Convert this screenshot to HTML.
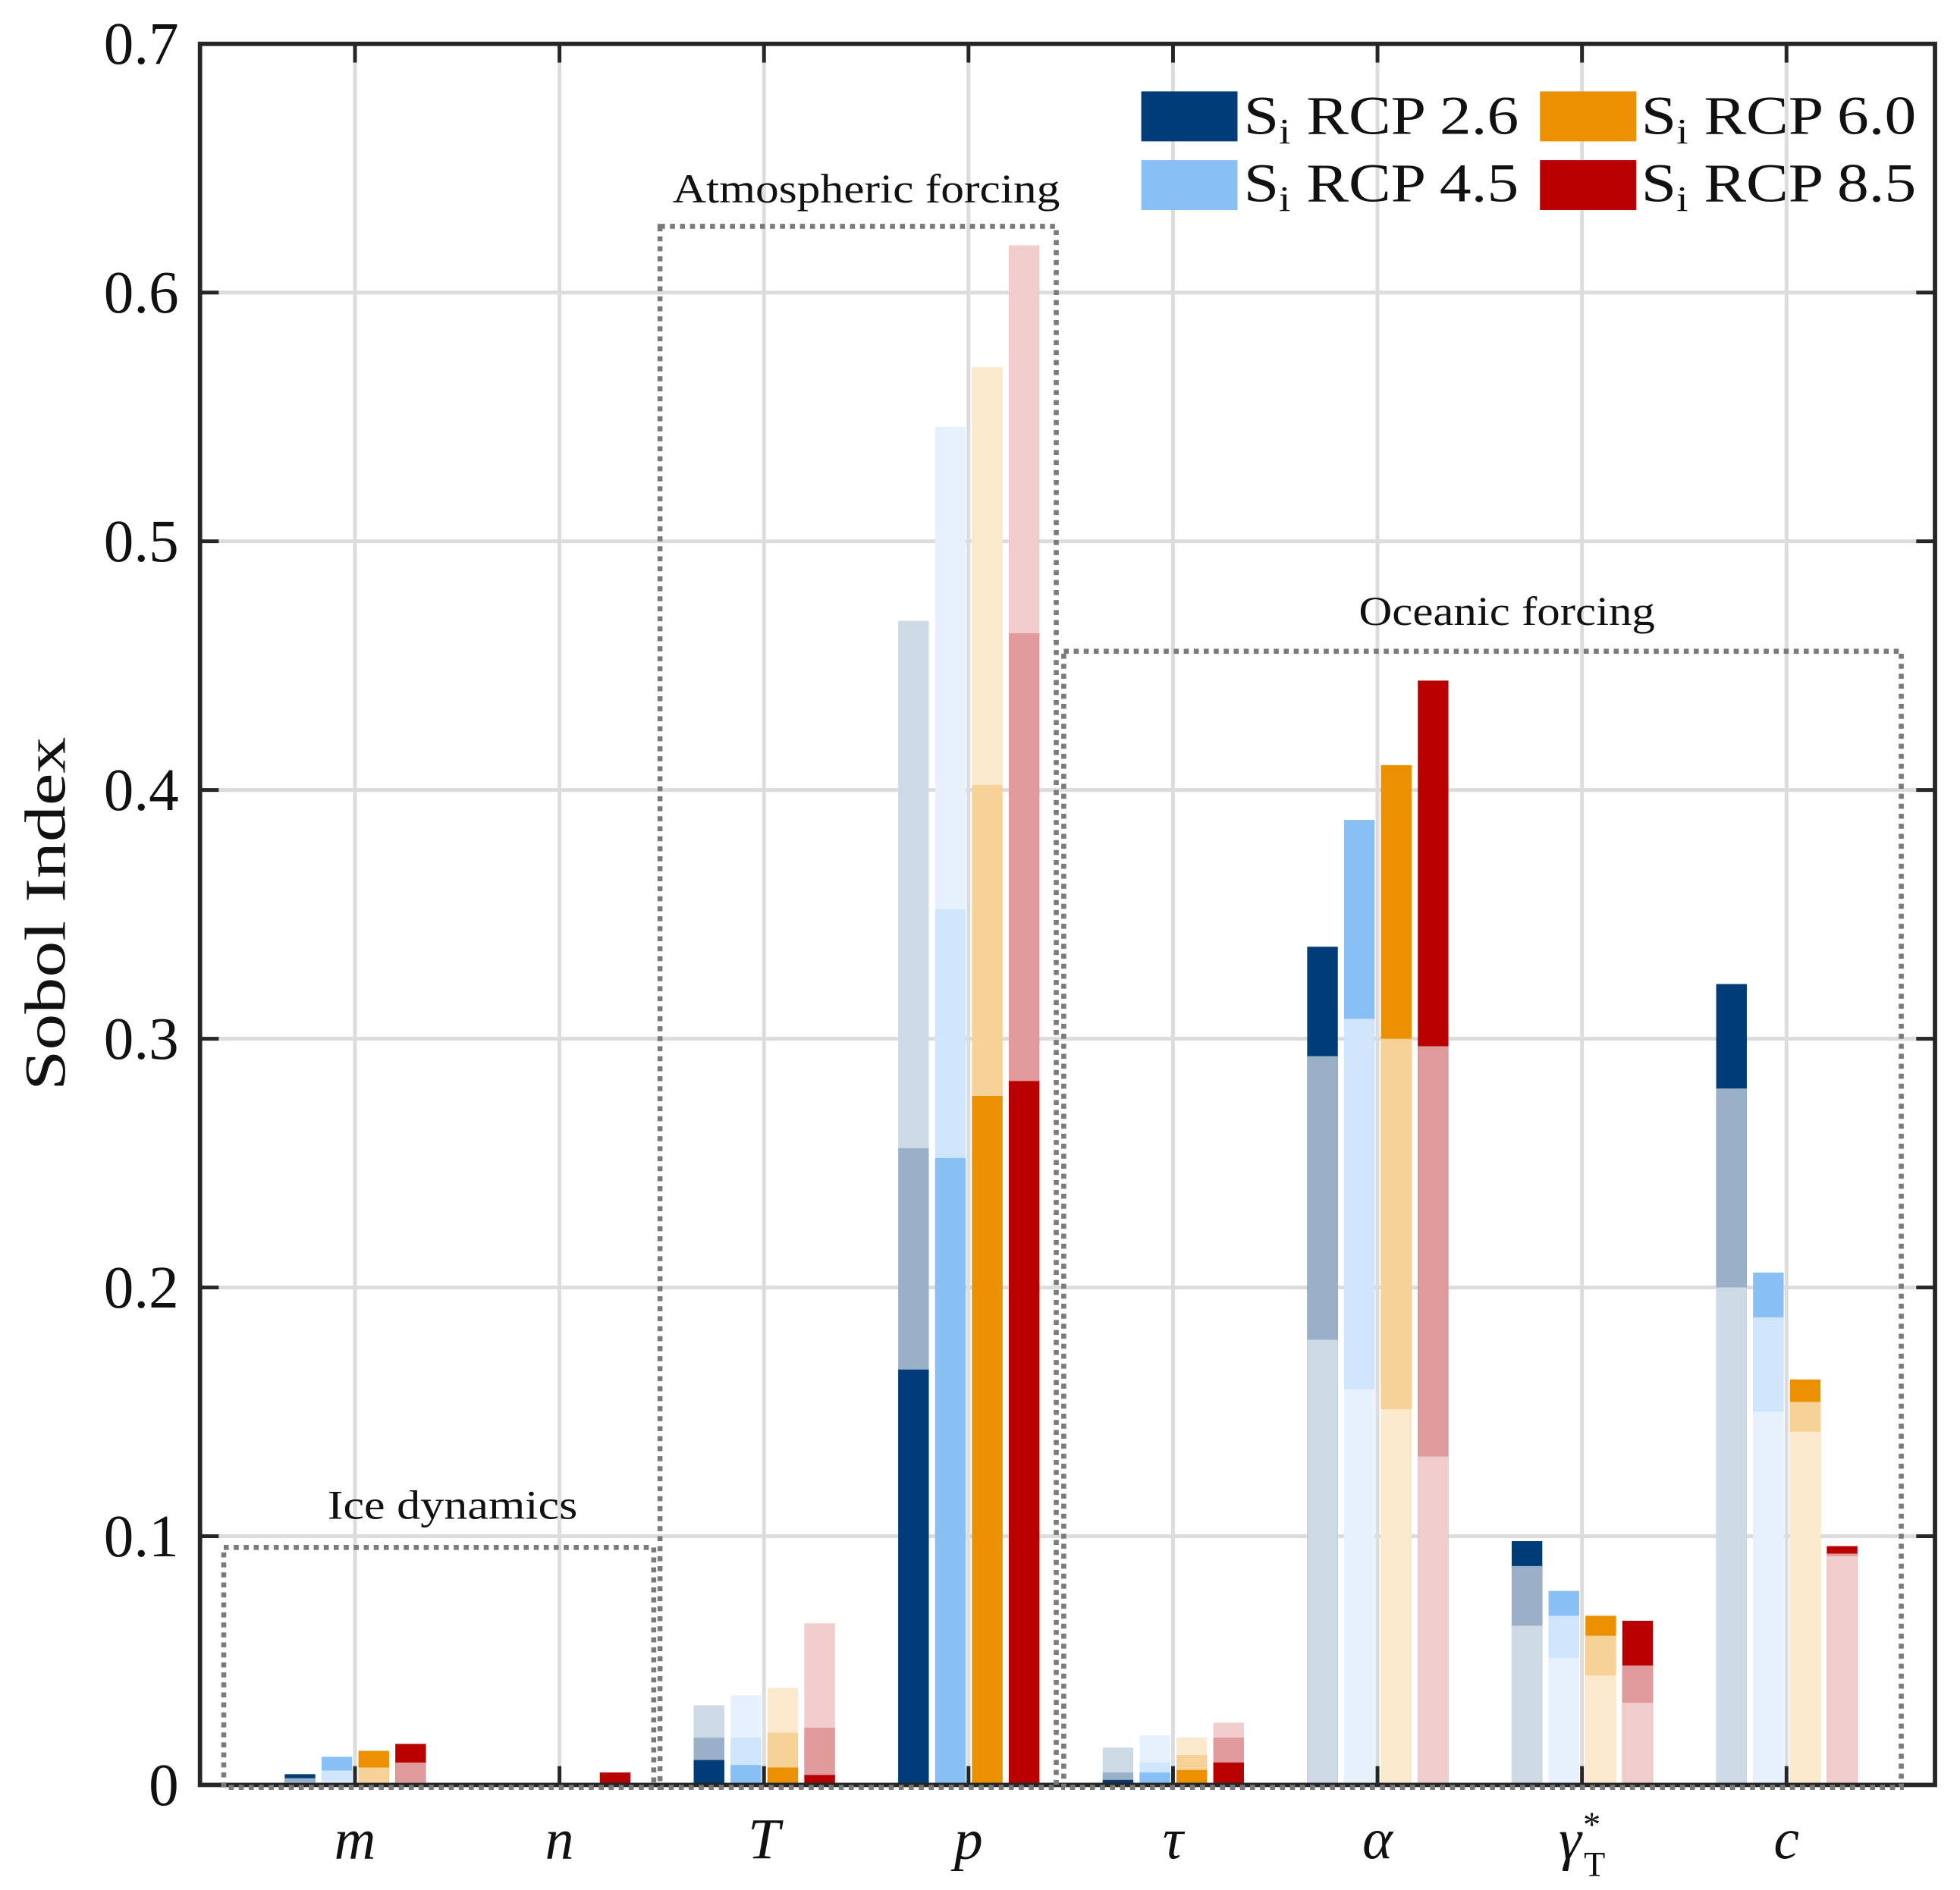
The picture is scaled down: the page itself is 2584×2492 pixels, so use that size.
<!DOCTYPE html>
<html><head><meta charset="utf-8"><style>
html,body{margin:0;padding:0;background:#fff}
svg{display:block}
text{font-family:"Liberation Serif",serif;fill:#111}
</style></head><body>
<svg id="chart" width="2584" height="2492" viewBox="0 0 1568 1512" xmlns="http://www.w3.org/2000/svg">
<g id="grid"></g>
<g id="bars"></g>
<g id="axes"></g>
<g fill="none" stroke="#7a7a7a" stroke-width="4" stroke-dasharray="4 4">
<rect x="179" y="1238" width="344" height="192"/>
<rect x="528" y="181" width="317" height="1249"/>
<rect x="851" y="521" width="670" height="909"/>
</g>
<text x="262" y="1215" font-size="33" textLength="200" lengthAdjust="spacingAndGlyphs">Ice dynamics</text>
<text x="538" y="162" font-size="33" textLength="310" lengthAdjust="spacingAndGlyphs">Atmospheric forcing</text>
<text x="1087" y="500" font-size="33" textLength="237" lengthAdjust="spacingAndGlyphs">Oceanic forcing</text>
<text transform="translate(52,731) rotate(-90)" font-size="46" text-anchor="middle" textLength="283" lengthAdjust="spacingAndGlyphs">Sobol Index</text>
<g font-size="44">
<rect x="913" y="73" width="77" height="40" fill="#003c78"/>
<text x="995" y="107" textLength="220" lengthAdjust="spacingAndGlyphs">S<tspan font-size="29" dy="8">i</tspan><tspan dy="-8"> RCP 2.6</tspan></text>
<rect x="913" y="128" width="77" height="40" fill="#88c0f5"/>
<text x="995" y="161" textLength="220" lengthAdjust="spacingAndGlyphs">S<tspan font-size="29" dy="8">i</tspan><tspan dy="-8"> RCP 4.5</tspan></text>
<rect x="1232" y="73" width="77" height="40" fill="#eb9000"/>
<text x="1313" y="107" textLength="220" lengthAdjust="spacingAndGlyphs">S<tspan font-size="29" dy="8">i</tspan><tspan dy="-8"> RCP 6.0</tspan></text>
<rect x="1232" y="128" width="77" height="40" fill="#b80000"/>
<text x="1313" y="161" textLength="220" lengthAdjust="spacingAndGlyphs">S<tspan font-size="29" dy="8">i</tspan><tspan dy="-8"> RCP 8.5</tspan></text>
</g>
</svg>
<script>
const categories = ["m","n","T","p","τ","α","γ","c"];
const scenarios = ["RCP 2.6","RCP 4.5","RCP 6.0","RCP 8.5"];
const yTicks = [0,0.1,0.2,0.3,0.4,0.5,0.6,0.7];
const yTickLabels = ["0","0.1","0.2","0.3","0.4","0.5","0.6","0.7"];
// first-order (solid)
const solidRCP26 = [0.0043,0,0.010,0.167,0.002,0.337,0.098,0.322];
const solidRCP45 = [0.0113,0,0.008,0.252,0.005,0.388,0.078,0.206];
const solidRCP60 = [0.0137,0.0005,0.007,0.277,0.006,0.410,0.068,0.163];
const solidRCP85 = [0.0165,0.005,0.004,0.283,0.009,0.444,0.066,0.096];
// mid layer
const midRCP26 = [0.0027,0,0.019,0.256,0.005,0.293,0.088,0.280];
const midRCP45 = [0.0058,0,0.019,0.352,0.009,0.308,0.068,0.188];
const midRCP60 = [0.007,0,0.021,0.402,0.012,0.300,0.060,0.154];
const midRCP85 = [0.009,0.0005,0.023,0.463,0.019,0.297,0.048,0.093];
// light layer
const lightRCP26 = [0.001,0,0.032,0.468,0.015,0.179,0.064,0.200];
const lightRCP45 = [0.0015,0,0.036,0.546,0.020,0.159,0.051,0.150];
const lightRCP60 = [0.001,0,0.039,0.570,0.019,0.151,0.044,0.142];
const lightRCP85 = [0.001,0,0.065,0.619,0.025,0.132,0.033,0.092];

const NS="http://www.w3.org/2000/svg";
const L=160,R=1548,T=35,B=1428;
const y=v=>B-(v/0.7)*(B-T);
const x=i=>284+i*163.6;
const off=[-44,-14.5,15,44.5], bw=24.5;
const cols=[["#003c78","#9ab0c8","#cdd9e4"],["#88c0f5","#cfe5fb","#e6f1fd"],["#eb9000","#f6d198","#fbe9ce"],["#b80000","#e09a9c","#f0cccc"]];
const S=[solidRCP26,solidRCP45,solidRCP60,solidRCP85],M=[midRCP26,midRCP45,midRCP60,midRCP85],Lt=[lightRCP26,lightRCP45,lightRCP60,lightRCP85];
function mk(t,a,p){const e=document.createElementNS(NS,t);for(const k in a)e.setAttribute(k,a[k]);p.appendChild(e);return e;}
const grid=document.getElementById('grid'),bars=document.getElementById('bars'),axes=document.getElementById('axes');
yTicks.forEach((v,i)=>{
 if(i>0&&i<yTicks.length-1){const g=mk('line',{x1:L,x2:R,y1:y(v),y2:y(v),stroke:'#dcdcdc','stroke-width':3},grid);
 
 }
 const t=mk('text',{x:143,y:y(v)+16,'font-size':48,'text-anchor':'end'},axes);t.textContent=yTickLabels[i];
 
 
 mk('line',{x1:L,x2:L+15,y1:y(v),y2:y(v),stroke:'#262626','stroke-width':3},axes);
 mk('line',{x1:R-15,x2:R,y1:y(v),y2:y(v),stroke:'#262626','stroke-width':3},axes);
});
categories.forEach((c,i)=>{
 const g=mk('line',{x1:x(i),x2:x(i),y1:T,y2:B,stroke:'#dcdcdc','stroke-width':3},grid);
 
 
 mk('line',{x1:x(i),x2:x(i),y1:T,y2:T+15,stroke:'#262626','stroke-width':3},axes);
 mk('line',{x1:x(i),x2:x(i),y1:B-15,y2:B,stroke:'#262626','stroke-width':3},axes);
 const t=mk('text',{x:x(i),y:1487,'font-size':46,'font-style':'italic','text-anchor':'middle'},axes);
 
 
 if(c==='γ'){t.innerHTML='γ<tspan font-size="28" dy="-18">*</tspan><tspan font-size="28" font-style="normal" dy="32" dx="-12">T</tspan>';}
 else t.textContent=c;
 for(let s=0;s<4;s++){
  const layers=[[S[s][i],0],[M[s][i],1],[Lt[s][i],2]].sort((a,b)=>b[0]-a[0]);
  layers.forEach(([v,k])=>{ if(v<=0)return;
   const r=mk('rect',{x:x(i)+off[s]-bw/2,y:y(v),width:bw,height:B-y(v),fill:cols[s][k]},bars);
   
   
  });
 }
});
const fr=mk('rect',{x:L,y:T,width:R-L,height:B-T,fill:'none',stroke:'#262626','stroke-width':3.5},axes);


</script>
</body></html>
